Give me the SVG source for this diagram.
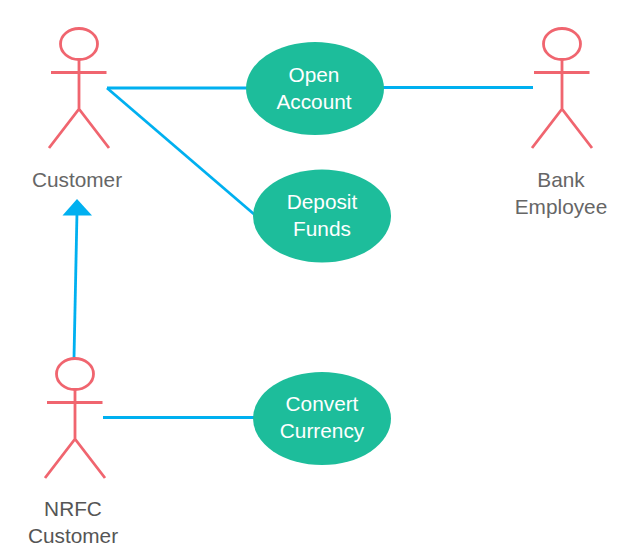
<svg xmlns="http://www.w3.org/2000/svg" width="632" height="558" viewBox="0 0 632 558">
<defs>
<g id="actor" fill="none" stroke="#f0656f" stroke-width="2.8">
<ellipse cx="0" cy="0" rx="18.500" ry="15.500"/>
<path d="M0 15.500V65M-28 28.500H27.500M-30 104L0 65L30 104"/>
</g>
</defs>
<style>
.lbl{font-family:"Liberation Sans",Arial,sans-serif;font-size:20.800px;text-anchor:middle}
.actor-lbl{fill:#666}
.uc-lbl{fill:#fff}
.uc{fill:#1dbd9b}
.edge{fill:none;stroke:#00b0f0;stroke-width:2.8}
</style>
<rect width="632" height="558" fill="#fff"/>
<g id="connectors">
<path class="edge" d="M107 88H247"/>
<path class="edge" d="M383 87.500H533"/>
<path class="edge" d="M107 88L255 215"/>
<path class="edge" d="M103 417.500H255"/>
<path class="edge" d="M74 358L77 212"/>
<path d="M62.500 215.500L77 199L92 215.500Z" fill="#00b0f0"/>
</g>
<g id="customer">
<use href="#actor" x="79" y="44"/>
<text class="lbl actor-lbl" x="77" y="186.500">Customer</text>
</g>
<g id="bank-employee">
<use href="#actor" x="562" y="44"/>
<text class="lbl actor-lbl" x="561" y="186.500">Bank</text>
<text class="lbl actor-lbl" x="561" y="213.500">Employee</text>
</g>
<g id="nrfc-customer">
<use href="#actor" x="75" y="374"/>
<text class="lbl actor-lbl" x="73" y="516" style="fill:#555">NRFC</text>
<text class="lbl actor-lbl" x="73" y="543" style="fill:#555">Customer</text>
</g>
<g id="open-account">
<ellipse class="uc" cx="315" cy="88.500" rx="69" ry="46.500"/>
<text class="lbl uc-lbl" x="314" y="82">Open</text>
<text class="lbl uc-lbl" x="314" y="108.500">Account</text>
</g>
<g id="deposit-funds">
<ellipse class="uc" cx="322" cy="216" rx="69" ry="46.500"/>
<text class="lbl uc-lbl" x="322" y="209">Deposit</text>
<text class="lbl uc-lbl" x="322" y="236">Funds</text>
</g>
<g id="convert-currency">
<ellipse class="uc" cx="322" cy="418.500" rx="69" ry="46.500"/>
<text class="lbl uc-lbl" x="322" y="411">Convert</text>
<text class="lbl uc-lbl" x="322" y="438">Currency</text>
</g>
</svg>
